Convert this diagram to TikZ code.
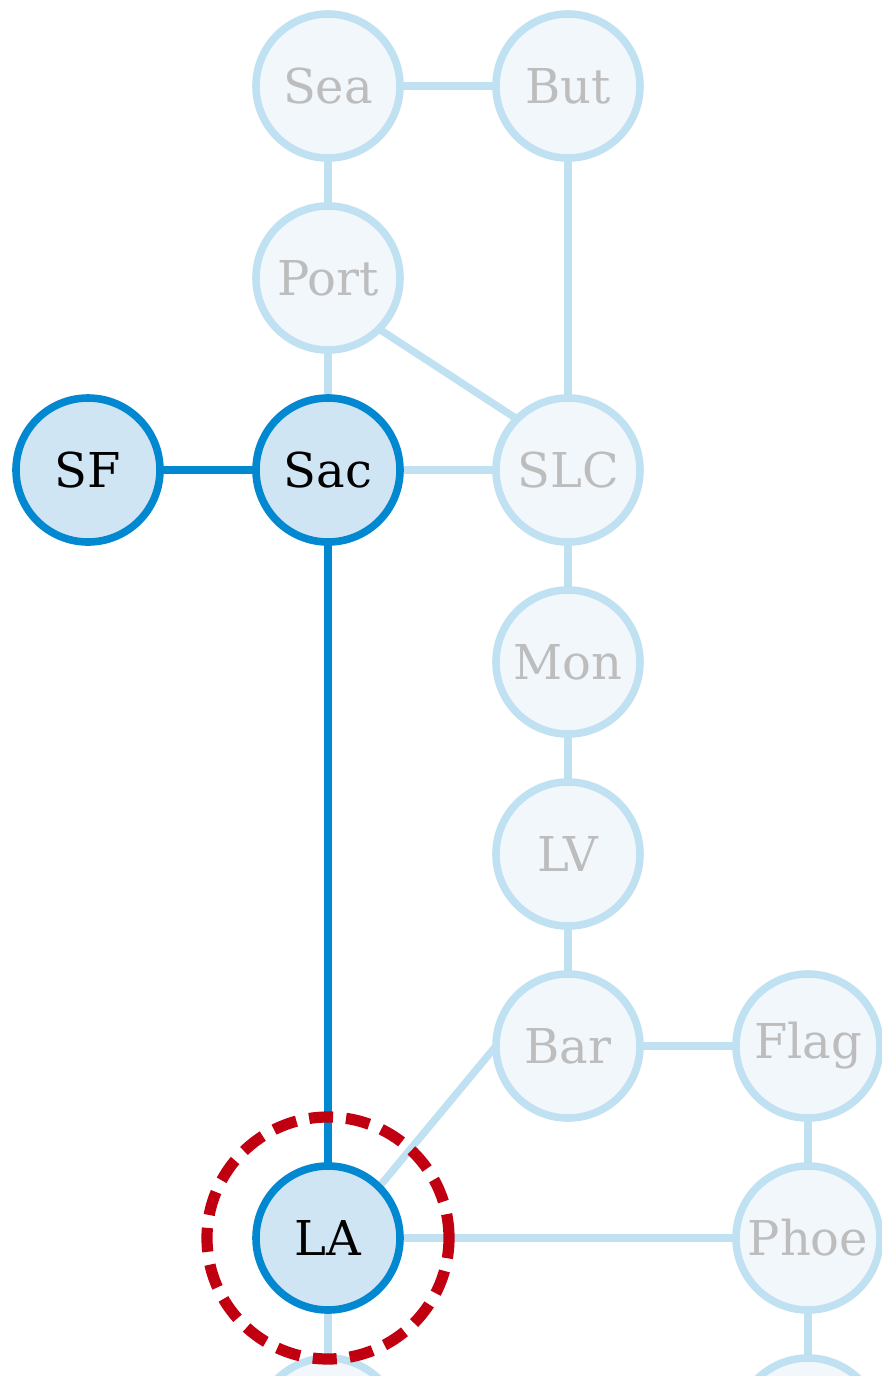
\documentclass[tikz,border=0pt]{standalone}
\usepackage{fontspec}
\setmainfont{DejaVu Serif}
\usetikzlibrary{positioning, backgrounds}
\definecolor{routeblue}{HTML}{0288D1}
\definecolor{routefill}{HTML}{CFE5F3}
\definecolor{fadeline}{HTML}{BFE1F2}
\definecolor{fadefill}{HTML}{F2F7FC}
\definecolor{fadetext}{HTML}{BDBDBD}
\definecolor{markred}{HTML}{C00010}

\begin{document}
\begin{tikzpicture}[x=0.5pt, y=-0.5pt,
	city/.style={circle, minimum size=72pt, inner sep=0pt, outer sep=0pt, line width=3.8pt, font=\fontsize{24}{28}\selectfont},
	faded/.style={city, draw=fadeline, fill=fadefill, text=fadetext},
	active/.style={city, draw=routeblue, fill=routefill, text=black},
	road/.style={line width=3.7pt, draw=fadeline},
	route/.style={line width=3.7pt, draw=routeblue}]
	\useasboundingbox (0,0) rectangle (882,1376);

	% grid of cities, 120pt across and 96pt down
	\begin{scope}[node distance=96pt and 120pt, on grid]
	\node [active] at (88,470)        (SF)   {SF};
	\node [active, right=of SF]       (Sac)  {Sac};
	\node [faded, above=of Sac]       (Port) {Port};
	\node [faded, above=of Port]      (Sea)  {Sea};
	\node [faded, right=of Sea]       (But)  {But};
	\node [faded, right=of Sac]       (SLC)  {SLC};
	\node [faded, below=of SLC]       (Mon)  {Mon};
	\node [faded, below=of Mon]       (LV)   {LV};
	\node [faded, below=of LV]        (Bar)  {Bar};
	\node [faded, right=of Bar]       (Flag) {Flag};
	\node [faded, below=of Flag]      (Phoe) {Phoe};
	\node [active, below left=of Bar] (LA)   {LA};
	\node [faded, below=of LA]        (LAs)  {};
	\node [faded, below=of Phoe]      (Phoes) {};
	\end{scope}

	\begin{scope}[on background layer]
		\draw [road] (Sea) -- (But);
		\draw [road] (Sea) -- (Port);
		\draw [road] (Port) -- (Sac);
		\draw [road] (Port.south east) -- (SLC.north west);
		\draw [road] (But) -- (SLC);
		\draw [road] (Sac) -- (SLC);
		\draw [road] (SLC) -- (Mon);
		\draw [road] (Mon) -- (LV);
		\draw [road] (LV) -- (Bar);
		\draw [road] (Bar) -- (Flag);
		\draw [road] (Flag) -- (Phoe);
		\draw [road] (Bar.west) -- (LA.north east);
		\draw [road] (LA) -- (Phoe);
		\draw [road] (LA) -- (LAs);
		\draw [road] (Phoe) -- (Phoes);
		\draw [route] (SF) -- (Sac);
		\draw [route] (Sac) -- (LA);
	\end{scope}

	\node [circle, minimum size=121pt, draw=markred, line width=5.6pt,
	       dash pattern=on 12pt off 6.5pt] at (LA) (mark) {};
\end{tikzpicture}
\end{document}
